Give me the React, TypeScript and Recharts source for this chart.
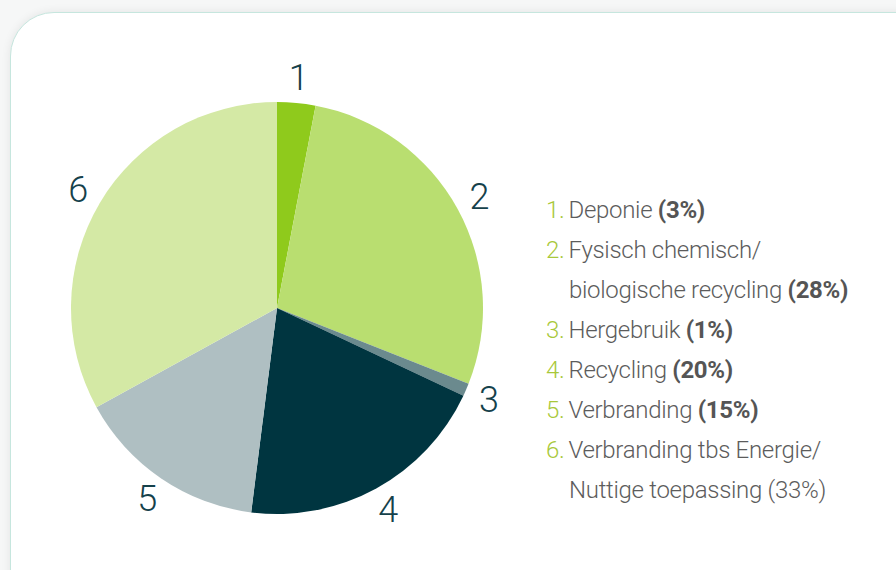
import React from 'react';
import { PieChart, Pie, Cell, Legend } from 'recharts';

const categories = ['1', '2', '3', '4', '5', '6'];
const values = [3, 28, 1, 20, 15, 33];
const colors = ['#8fca1c', '#b9de70', '#6b8a8e', '#003540', '#afbfc2', '#d4e9a5'];
const legendFirstLines = ['Deponie', 'Fysisch chemisch/', 'Hergebruik', 'Recycling', 'Verbranding', 'Verbranding tbs Energie/'];
const legendSecondLines = ['', 'biologische recycling', '', '', '', 'Nuttige toepassing'];
const boldPercent = [true, true, true, true, true, false];

const data = categories.map((c, i) => ({ name: c, value: values[i] }));

const RADIAN = Math.PI / 180;

const renderLabel = (props: any) => {
  const { cx, cy, midAngle, outerRadius, index } = props;
  const r = outerRadius + 25;
  const x = cx + r * Math.cos(-midAngle * RADIAN);
  const y = cy + r * Math.sin(-midAngle * RADIAN);
  return (
    <text
      x={x}
      y={y}
      fill="#15414b"
      fontSize={36}
      fontWeight={300}
      fontFamily="Roboto"
      textAnchor="middle"
      dominantBaseline="central"
    >
      {categories[index]}
    </text>
  );
};

const LegendContent = () => (
  <div style={{ fontFamily: 'Roboto', fontWeight: 300, fontSize: 24, color: '#5c5c5c', lineHeight: '40px', whiteSpace: 'nowrap', letterSpacing: -0.3 }}>
    {categories.map((c, i) => {
      const pct = `(${values[i]}%)`;
      const pctEl = boldPercent[i] ? <span style={{ fontWeight: 700, color: '#555' }}>{pct}</span> : <span>{pct}</span>;
      return (
        <div key={c}>
          <div>
            <span style={{ color: '#a8c83a', marginRight: 4 }}>{c}.</span>
            {legendFirstLines[i]}
            {legendSecondLines[i] === '' ? <> {pctEl}</> : null}
          </div>
          {legendSecondLines[i] !== '' ? (
            <div style={{ paddingLeft: 23 }}>
              {legendSecondLines[i]} {pctEl}
            </div>
          ) : null}
        </div>
      );
    })}
  </div>
);

export default function App() {
  return (
    <div style={{ position: 'absolute', left: 0, top: 0, width: 896, height: 570, background: '#f6f7f7', overflow: 'hidden' }}>
      <div
        style={{
          position: 'absolute',
          left: 10,
          top: 12,
          width: 940,
          height: 620,
          background: '#ffffff',
          border: '1px solid #c6e6de',
          borderRadius: 44,
          boxShadow: '0 0 10px rgba(0,0,0,0.08)',
        }}
      />
      <div style={{ position: 'absolute', left: 0, top: 0 }}>
        <PieChart width={896} height={570} margin={{ top: 0, right: 0, bottom: 0, left: 0 }}>
          <Pie
            data={data}
            dataKey="value"
            nameKey="name"
            cx={277}
            cy={308}
            outerRadius={206}
            startAngle={90}
            endAngle={-270}
            stroke="none"
            label={renderLabel}
            labelLine={false}
            isAnimationActive={false}
          >
            {data.map((d, i) => (
              <Cell key={d.name} fill={colors[i]} />
            ))}
          </Pie>
          <Legend content={<LegendContent />} wrapperStyle={{ position: 'absolute', left: 546, top: 190, width: 340 }} />
        </PieChart>
      </div>
    </div>
  );
}
